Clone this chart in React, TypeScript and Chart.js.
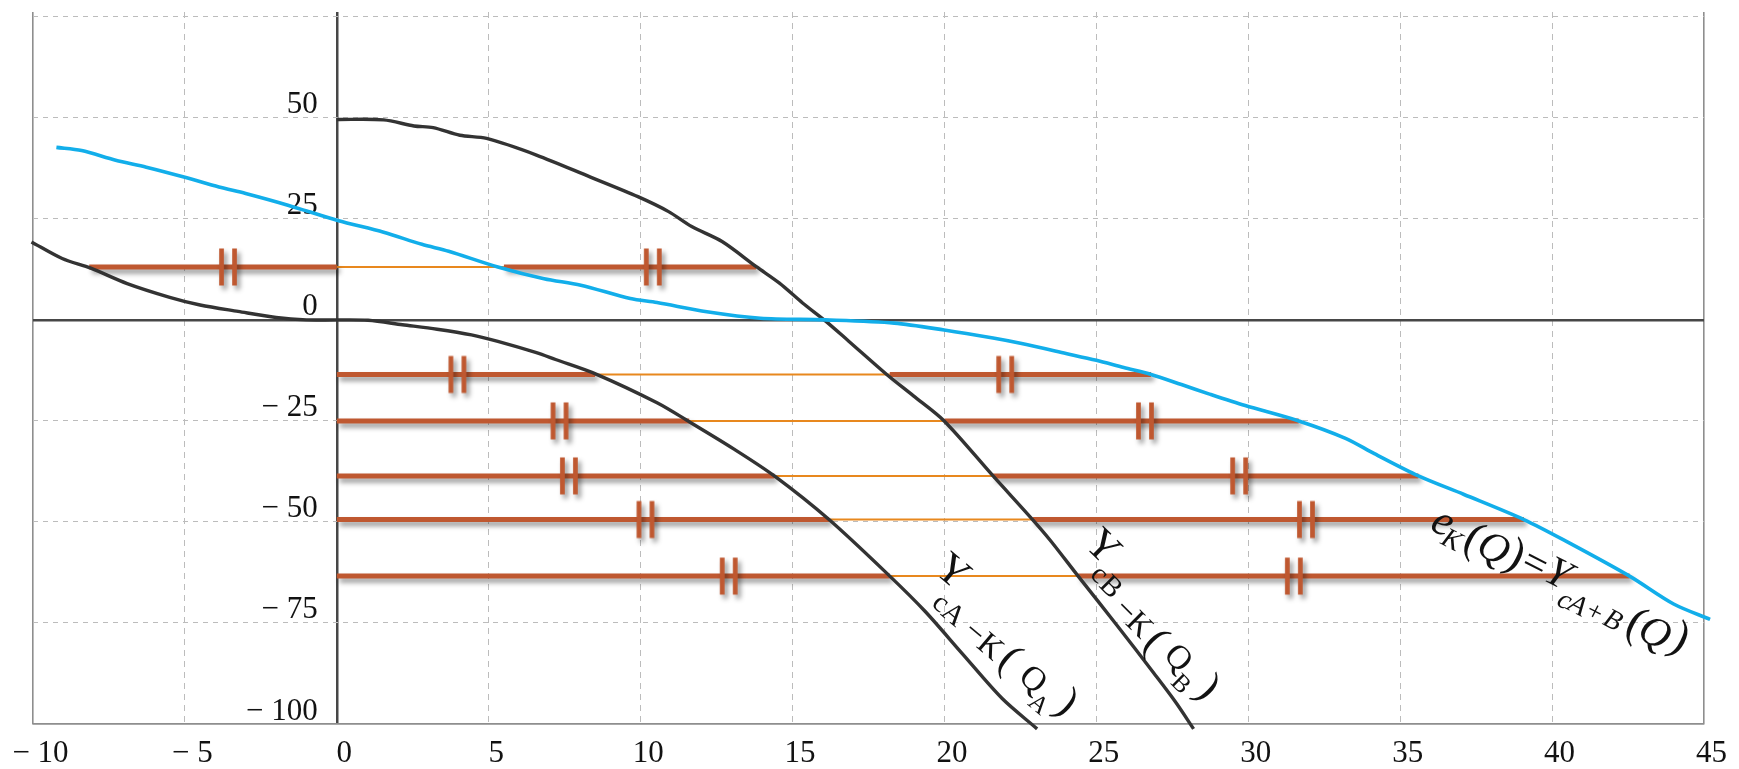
import React, { useEffect, useRef } from "react";
import { Chart, registerables } from "chart.js";

Chart.register(...registerables);

// ---------- axis ticks ----------
const xTickValues = [-10, -5, 0, 5, 10, 15, 20, 25, 30, 35, 40, 45];
const xTickLabels = ["− 10", "− 5", "0", "5", "10", "15", "20", "25", "30", "35", "40", "45"];
const yTickValues = [-100, -75, -50, -25, 0, 25, 50, 75];
const yTickLabels = ["− 100", "− 75", "− 50", "− 25", "0", "25", "50", ""];

// ---------- curve A : Y_cA-K(Q_A) ----------
const curveAQ = [-10.05, -9.04, -8.1, -6.9, -5.5, -4.5, -3.25, -2.0, -1.0, 0, 1.03, 2.16, 3.3, 4.43, 5.3, 6.57, 7.2, 8.53, 10.54, 11.6, 13.06, 14.4, 16.2, 18.2, 19.36, 20.6, 21.9, 23.05];
const curveAV = [19.3, 15.2, 12.8, 9.0, 5.6, 3.7, 2.1, 0.6, 0.0, 0.0, -0.1, -1.2, -2.3, -3.7, -5.3, -8.1, -9.8, -13.4, -20.5, -25.2, -31.9, -38.6, -49.4, -63.4, -72.1, -82.7, -93.7, -101.2];

// ---------- curve B : Y_cB-K(Q_B) ----------
const curveBQ = [0, 1.54, 2.54, 3.17, 4.05, 4.93, 6.57, 8.33, 9.91, 10.92, 11.68, 12.68, 13.82, 14.57, 15.33, 16.09, 16.84, 18.1, 18.98, 19.99, 21.6, 22.9, 23.5, 24.4, 25.65, 26.9, 27.6, 28.2];
const curveBV = [49.6, 49.5, 48.0, 47.6, 45.7, 44.9, 40.8, 35.4, 30.5, 26.8, 23.1, 19.4, 13.1, 9.1, 4.2, -0.3, -5.2, -13.5, -18.8, -25.0, -38.6, -49.4, -54.7, -63.4, -75.3, -87.5, -94.5, -101.2];

// ---------- blue curve : e_K(Q) = Y_cA+B(Q) ----------
const sumQ = [-9.23, -8.4, -7.28, -6.27, -5.0, -3.88, -3.0, -1.61, 0.03, 1.54, 2.8, 3.68, 5.3, 6.82, 8.03, 9.66, 10.54, 12.18, 13.94, 16.08, 18.35, 19.99, 21.6, 22.5, 24.0, 25.0, 25.9, 26.8, 27.8, 28.7, 29.9, 31.66, 33.2, 34.15, 35.6, 37.1, 39.07, 40.47, 42.55, 44.0, 45.2];
const sumV = [42.7, 41.9, 39.5, 37.8, 35.3, 32.9, 31.3, 28.4, 24.6, 21.7, 18.7, 17.0, 13.1, 10.2, 8.6, 5.3, 4.3, 2.0, 0.4, 0.0, -0.8, -2.5, -4.5, -5.8, -8.3, -10.0, -11.8, -13.5, -16.0, -18.3, -21.2, -25.0, -29.3, -33.1, -38.6, -43.2, -49.4, -54.8, -63.4, -70.3, -74.1];

// ---------- horizontal levels ----------
const levelV = [13.1, -13.5, -25, -38.6, -49.4, -63.4];
const segALeft = [-8.15, 0, 0, 0, 0, 0];
const segARight = [0, 8.5, 11.6, 14.4, 16.2, 18.2];
const segBLeft = [5.5, 18.2, 20.0, 21.6, 22.9, 24.4];
const segBRight = [13.8, 26.8, 31.66, 35.6, 39.07, 42.55];
const markA = [-3.58, 3.97, 7.33, 7.64, 10.16, 12.9];
const markB = [10.4, 22.0, 26.6, 29.7, 31.9, 31.5];

// ---------- styles ----------
const SERIF = '"Liberation Serif", "DejaVu Serif", serif';
const TEXT = "#121212";
const GRID = "#bcbcbc";
const FRAME = "#8e8e8e";
const AXIS = "#474747";
const CURVE = "#333333";
const BLUE = "#12AEEA";
const THICK = "#BF5830";
const THIN = "#E8881E";

type Glyph = [string, number, number, number, boolean?];
const curveLabels: { q: number; v: number; angle: number; glyphs: Glyph[] }[] = [
  {
    q: 20.24, v: -62.57, angle: 40,
    glyphs: [
      ["Y", 43, 0, 0], ["c", 29, 11, -31], ["A", 29, 28, -32], ["−", 32, 56, -32], ["K", 32, 77, -33],
      ["(", 43, 100, -30], ["Q", 34, 131, -30.5], ["A", 25, 151, -46], [")", 43, 172, -27],
    ],
  },
  {
    q: 25.18, v: -56.43, angle: 45,
    glyphs: [
      ["Y", 43, 0, 0], ["c", 29, 17, -21], ["B", 29, 34, -22], ["−", 32, 61, -28], ["K", 32, 81, -29],
      ["(", 43, 104, -29], ["Q", 34, 132, -25], ["B", 25, 152, -41], [")", 43, 174, -25],
    ],
  },
  {
    q: 36.39, v: -50.28, angle: 27,
    glyphs: [
      ["e", 44, 0, 0, true], ["K", 28, 16, -12, true], ["(", 46, 35, -1], ["Q", 42, 57, -1, true],
      [")", 46, 80, 3], ["=", 42, 101, 4], ["Y", 42, 126, 6, true], ["c", 28, 144, -14, true],
      ["A", 28, 158, -13, true], ["+", 27, 176, -11], ["B", 28, 196, -10, true], ["(", 46, 218, -3],
      ["Q", 42, 239, -3, true], [")", 46, 264, 4],
    ],
  },
];

const pts = (xs: number[], ys: number[]) => xs.map((x, i) => ({ x, y: ys[i] }));

export default function App() {
  const ref = useRef<HTMLCanvasElement>(null);

  useEffect(() => {
    document.body.style.margin = "0";
    document.documentElement.style.overflow = "hidden";
    const canvas = ref.current;
    if (!canvas) return;

    const marker = document.createElement("canvas");
    marker.width = 26;
    marker.height = 42;
    const m = marker.getContext("2d")!;
    m.fillStyle = THICK;
    m.fillRect(4.15, 2.5, 4.7, 37);
    m.fillRect(17.15, 2.5, 4.7, 37);

    const thickPts: any[] = [];
    const thinPts: any[] = [];
    const markPts: any[] = [];
    levelV.forEach((v, i) => {
      thickPts.push({ x: segALeft[i], y: v }, { x: segARight[i], y: v }, { x: segARight[i], y: null });
      thickPts.push({ x: segBLeft[i], y: v }, { x: segBRight[i], y: v }, { x: segBRight[i], y: null });
      thinPts.push({ x: segARight[i], y: v }, { x: segBLeft[i], y: v }, { x: segBLeft[i], y: null });
      markPts.push({ x: markA[i], y: v }, { x: markB[i], y: v });
    });

    const shadowPlugin = {
      id: "shadowPlugin",
      beforeDatasetDraw(chart: any, args: any) {
        const ds = chart.data.datasets[args.index];
        if (ds.shadow) {
          const c = chart.ctx;
          c.save();
          c.shadowColor = "rgba(0,0,0,0.42)";
          c.shadowBlur = 5;
          c.shadowOffsetX = 3;
          c.shadowOffsetY = 4;
        }
      },
      afterDatasetDraw(chart: any, args: any) {
        const ds = chart.data.datasets[args.index];
        if (ds.shadow) chart.ctx.restore();
      },
    };

    const textPlugin = {
      id: "textPlugin",
      beforeDatasetsDraw(chart: any) {
        const c = chart.ctx;
        const xs = chart.scales.x;
        const ys = chart.scales.y;
        c.save();
        c.font = `31px ${SERIF}`;
        c.fillStyle = TEXT;
        c.textAlign = "right";
        c.textBaseline = "alphabetic";
        const x0 = xs.getPixelForValue(0) - 19;
        yTickValues.forEach((v, i) => {
          if (!yTickLabels[i]) return;
          c.fillText(yTickLabels[i], x0, ys.getPixelForValue(v) - 4.5);
        });
        c.restore();
      },
      afterDatasetsDraw(chart: any) {
        const c = chart.ctx;
        const xs = chart.scales.x;
        const ys = chart.scales.y;
        curveLabels.forEach((lab) => {
          const ox = xs.getPixelForValue(lab.q);
          const oy = ys.getPixelForValue(lab.v);
          const a = (lab.angle * Math.PI) / 180;
          const ca = Math.cos(a);
          const sa = Math.sin(a);
          lab.glyphs.forEach(([t, size, along, perp, italic]) => {
            // position along the rotated baseline, then rotate each glyph
            const gx = ox + along * ca + perp * sa;
            const gy = oy + along * sa - perp * ca;
            c.save();
            c.translate(gx, gy);
            c.rotate(a);
            c.fillStyle = TEXT;
            c.textAlign = "center";
            c.textBaseline = "middle";
            c.font = `${italic ? "italic " : ""}${size}px ${SERIF}`;
            c.fillText(t, 0, 0);
            c.restore();
          });
        });
      },
    };

    const isFrameX = (v: number) => v === -10 || v === 45;

    const chart = new Chart(canvas, {
      type: "line",
      data: {
        datasets: [
          { label: "A", data: pts(curveAQ, curveAV), borderColor: CURVE, borderWidth: 3.4, pointRadius: 0, tension: 0.3, clip: false, order: 1 } as any,
          { label: "B", data: pts(curveBQ, curveBV), borderColor: CURVE, borderWidth: 3.4, pointRadius: 0, tension: 0.3, clip: false, order: 1 } as any,
          { label: "sum", data: pts(sumQ, sumV), borderColor: BLUE, borderWidth: 3.6, pointRadius: 0, tension: 0.3, clip: false, order: 0 } as any,
          { label: "thin", data: thinPts, borderColor: THIN, borderWidth: 2, pointRadius: 0, spanGaps: false, order: 6 } as any,
          { label: "thick", data: thickPts, borderColor: THICK, borderWidth: 5, borderCapStyle: "butt", pointRadius: 0, spanGaps: false, order: 5, shadow: true } as any,
          { label: "marks", data: markPts, showLine: false, pointStyle: marker, pointRadius: 12, borderWidth: 0, order: 4, shadow: true } as any,
        ],
      },
      options: {
        responsive: false,
        animation: false,
        events: [],
        parsing: true,
        layout: { padding: { left: 33, right: 35, top: 7, bottom: 0 } },
        plugins: { legend: { display: false }, tooltip: { enabled: false } },
        scales: {
          x: {
            type: "linear",
            position: "bottom",
            min: -10,
            max: 45,
            afterBuildTicks: (s: any) => {
              s.ticks = xTickValues.map((v) => ({ value: v }));
            },
            afterFit: (s: any) => {
              s.height = 45;
              s.paddingLeft = 0;
              s.paddingRight = 0;
            },
            ticks: {
              autoSkip: false,
              maxRotation: 0,
              padding: 11,
              labelOffset: 7.5,
              color: TEXT,
              font: { family: SERIF, size: 31 },
              callback: (_v: any, i: number) => xTickLabels[i],
            },
            grid: {
              drawTicks: false,
              color: (ctx: any) => {
                const v = ctx.tick ? ctx.tick.value : NaN;
                return v === 0 ? AXIS : isFrameX(v) ? FRAME : GRID;
              },
              lineWidth: (ctx: any) => {
                const v = ctx.tick ? ctx.tick.value : NaN;
                return v === 0 ? 2.5 : isFrameX(v) ? 1.6 : 1;
              },
            },
            border: {
              display: true,
              color: FRAME,
              width: 1.6,
              dash: (ctx: any) => {
                const v = ctx.tick ? ctx.tick.value : NaN;
                return ctx.tick && v !== 0 && !isFrameX(v) ? [6, 5] : [];
              },
            },
          },
          y: {
            type: "linear",
            position: "left",
            min: -100,
            max: 76.2,
            afterBuildTicks: (s: any) => {
              s.ticks = yTickValues.map((v) => ({ value: v }));
            },
            afterFit: (s: any) => {
              s.width = 0;
              s.paddingTop = 0;
              s.paddingBottom = 0;
            },
            ticks: { display: false },
            grid: {
              drawTicks: false,
              color: (ctx: any) => {
                const v = ctx.tick ? ctx.tick.value : NaN;
                return v === 0 ? AXIS : v === -100 ? FRAME : GRID;
              },
              lineWidth: (ctx: any) => {
                const v = ctx.tick ? ctx.tick.value : NaN;
                return v === 0 ? 2.5 : v === -100 ? 1.6 : 1;
              },
            },
            border: {
              display: false,
              dash: (ctx: any) => {
                const v = ctx.tick ? ctx.tick.value : NaN;
                return ctx.tick && v !== 0 && v !== -100 ? [5, 5] : [];
              },
            },
          },
        },
      } as any,
      plugins: [shadowPlugin, textPlugin],
    });

    return () => chart.destroy();
  }, []);

  return <canvas ref={ref} width={1739} height={769} style={{ display: "block" }} />;
}
